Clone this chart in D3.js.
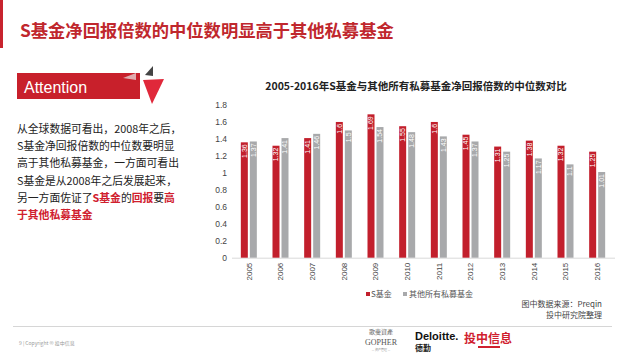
<!DOCTYPE html>
<html><head><meta charset="utf-8">
<script src="https://cdn.jsdelivr.net/npm/d3@7"></script>
<style>
html,body{margin:0;padding:0;background:#fff;}
svg{display:block;font-family:"Noto Sans CJK SC","Noto Sans",sans-serif;}
</style></head>
<body>
<svg id="c" width="640" height="360"></svg>
<script>
const years = ["2005","2006","2007","2008","2009","2010","2011","2012","2013","2014","2015","2016"];
const sFund = [1.36,1.32,1.41,1.60,1.69,1.55,1.60,1.45,1.31,1.38,1.32,1.25];
const otherFunds = [1.37,1.41,1.46,1.50,1.54,1.48,1.43,1.37,1.25,1.17,1.10,1.01];
const yTicks = [0,0.2,0.4,0.6,0.8,1,1.2,1.4,1.6,1.8];
const seriesNames = ["S基金","其他所有私募基金"];
const pageTitle = "S基金净回报倍数的中位数明显高于其他私募基金";
const chartTitle = "2005-2016年S基金与其他所有私募基金净回报倍数的中位数对比";

const RED = "#c21f2c", GRAY = "#a8a9ab";
const svg = d3.select("#c");

// header
svg.append("rect").attr("x",0).attr("y",0).attr("width",3).attr("height",48).attr("fill","#c8232e");
svg.append("text").attr("x",20).attr("y",37).attr("font-size",17.3).attr("font-weight","bold")
  .attr("fill","#c0272d").text(pageTitle);

// Attention box
svg.append("rect").attr("x",17).attr("y",73).attr("width",123).attr("height",26).attr("fill","#c8202b");
svg.append("polygon").attr("points","123,78 136,73 136,80").attr("fill","#e8e8e8").attr("opacity",0.7);
svg.append("text").attr("x",24).attr("y",93).attr("font-size",16).attr("fill","#fff")
  .attr("font-family","Liberation Sans, Arial, sans-serif").text("Attention");
svg.append("polygon").attr("points","145,75 153,66 153,76").attr("fill","#444");
svg.append("polygon").attr("points","143,80 164,79 152,104").attr("fill","#e0283a");

// paragraph
const para = [
  [["从全球数据可看出，2008年之后，",0]],
  [["S基金净回报倍数的中位数要明显",0]],
  [["高于其他私募基金，一方面可看出",0]],
  [["S基金是从2008年之后发展起来，",0]],
  [["另一方面佐证了",0],["S基金",1],["的",0],["回报",1],["要",0],["高",1]],
  [["于其他私募基金",1]]
];
para.forEach((line,i)=>{
  const t = svg.append("text").attr("x",17).attr("y",133+i*17.2).attr("font-size",10.8).attr("fill","#222");
  line.forEach(([s,hl])=>{
    t.append("tspan").text(s).attr("fill",hl?"#d0202e":"#222").attr("font-weight",hl?"bold":"normal");
  });
});

// chart
const x0 = d3.scaleBand().domain(years).range([233,613]).paddingInner(0).paddingOuter(0);
const y = d3.scaleLinear().domain([0,1.8]).range([257.7,105]);
const bw = 7, gap = 2;

svg.append("text").attr("x",416).attr("y",90).attr("text-anchor","middle").attr("font-size",10.5)
  .attr("font-weight","bold").attr("fill","#222").text(chartTitle);

const yAxis = d3.axisLeft(y).tickValues(yTicks).tickSize(0).tickPadding(0).tickFormat(d=>String(d));
const ya = svg.append("g").attr("transform","translate(227,0)").call(yAxis);
ya.select(".domain").remove();
ya.selectAll("text").attr("font-size",8.5).attr("fill","#444").attr("font-family","Liberation Sans, Arial, sans-serif");

const xAxis = d3.axisBottom(x0).tickSize(0).tickPadding(0);
const xa = svg.append("g").attr("transform","translate(0,257.7)").call(xAxis);
xa.select(".domain").attr("stroke","#d9d9d9").attr("d","M232,0.5H615");
xa.selectAll("text").attr("font-size",8).attr("fill","#444").attr("font-family","Liberation Sans, Arial, sans-serif")
  .attr("transform","rotate(-90)").attr("text-anchor","end").attr("dy","0.35em").attr("x",-5).attr("y",0);

const g = svg.append("g");
years.forEach((yr,i)=>{
  const cx = x0(yr)+x0.bandwidth()/2;
  const xr = cx - gap/2 - bw, xg = cx + gap/2;
  [[xr,sFund[i],RED],[xg,otherFunds[i],GRAY]].forEach(([bx,v,col])=>{
    g.append("rect").attr("x",bx).attr("y",y(v)).attr("width",bw).attr("height",y(0)-y(v)).attr("fill",col);
    g.append("text").attr("transform",`translate(${bx+bw/2},${y(v)+2}) rotate(-90)`)
      .attr("text-anchor","end").attr("dy","0.35em").attr("font-size",7).attr("fill","#fff")
      .attr("font-family","Liberation Sans, Arial, sans-serif").text(String(v));
  });
});

// legend
const lg = svg.append("g").attr("font-size",8).attr("fill","#555");
lg.append("rect").attr("x",366).attr("y",292).attr("width",4).attr("height",4).attr("fill",RED);
lg.append("text").attr("x",371).attr("y",297).text(seriesNames[0]);
lg.append("rect").attr("x",403).attr("y",292).attr("width",4).attr("height",4).attr("fill",GRAY);
lg.append("text").attr("x",409).attr("y",297).text(seriesNames[1]);

// source
svg.append("text").attr("x",602).attr("y",307).attr("text-anchor","end").attr("font-size",8).attr("fill","#444").text("图中数据来源：Preqin");
svg.append("text").attr("x",602).attr("y",318).attr("text-anchor","end").attr("font-size",8).attr("fill","#444").text("投中研究院整理");

// footer
svg.append("line").attr("x1",13).attr("x2",612).attr("y1",326.5).attr("y2",326.5).attr("stroke","#d6d6d6").attr("stroke-width",1);
svg.append("text").attr("x",19).attr("y",345).attr("font-size",5).attr("fill","#999").text("9   |  Copyright © 投中信息");
svg.append("text").attr("x",381).attr("y",334).attr("text-anchor","middle").attr("font-size",6).attr("fill","#666").text("歌斐資產");
svg.append("text").attr("x",381).attr("y",345).attr("text-anchor","middle").attr("font-size",8).attr("fill","#555")
  .attr("font-family","Liberation Serif, serif").text("GOPHER");
svg.append("text").attr("x",381).attr("y",351).attr("text-anchor","middle").attr("font-size",3).attr("fill","#888").text("— 资产管理 —");
svg.append("text").attr("x",415).attr("y",340).attr("font-size",11).attr("font-weight","bold").attr("fill","#111")
  .attr("font-family","Liberation Sans, Arial, sans-serif").text("Deloitte.");
svg.append("text").attr("x",415).attr("y",351).attr("font-size",8).attr("font-weight","bold").attr("fill","#222").text("德勤");
svg.append("text").attr("x",464).attr("y",343).attr("font-size",12).attr("font-weight","bold").attr("fill","#d0202e").text("投中信息");
svg.append("rect").attr("x",478).attr("y",346).attr("width",22).attr("height",2).attr("fill","#d0202e");
</script>
</body></html>
